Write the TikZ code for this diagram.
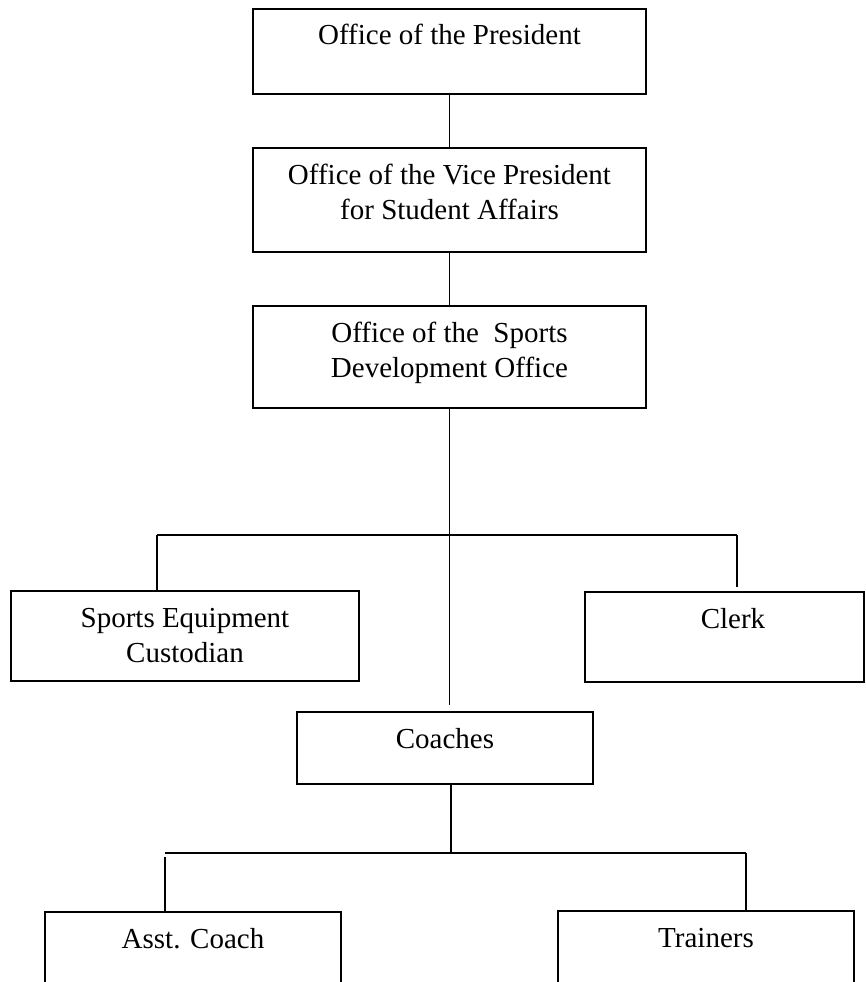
\documentclass[tikz,border=0pt]{standalone}
\usepackage{fontspec}
\setmainfont{Liberation Serif}
\usetikzlibrary{calc}
% text of a box: top-aligned, centred lines of a fixed width
\newcommand\boxtext[2]{\parbox[t]{#1}{\centering #2}}
\begin{document}
\begin{tikzpicture}[x=1pt,y=-1pt,
  orgbox/.style={draw, line width=2pt, inner sep=0pt, anchor=north west,
    text height=36pt, font=\fontsize{29}{35}\selectfont},
  link/.style={line width=1.5pt}]
\clip (0,0) rectangle (866,982);

% --- boxes ---
\node[orgbox, minimum width=393pt, text depth=49pt] (pres) at (252,8)
  {\boxtext{393pt}{Office of the President}};
\node[orgbox, minimum width=393pt, text depth=68pt] (vp) at (252,147)
  {\boxtext{393pt}{Office of the Vice President\\for Student Affairs}};
\node[orgbox, minimum width=393pt, text depth=66pt] (sdo) at (252,305)
  {\boxtext{393pt}{Office of the\ \ Sports\\Development Office}};
\node[orgbox, minimum width=348pt, text depth=54pt] (se) at (10,590)
  {\boxtext{348pt}{Sports Equipment\\Custodian}};
\node[orgbox, minimum width=279pt, text depth=54pt] (clerk) at (584,591)
  {\boxtext{279pt}{\hspace*{17pt}Clerk}};
\node[orgbox, minimum width=296pt, text depth=36pt] (coaches) at (296,711)
  {\boxtext{296pt}{Coaches}};
\node[orgbox, minimum width=296pt, text depth=64pt] (asst) at (44,911)
  {\boxtext{296pt}{Asst. Coach}};
\node[orgbox, minimum width=296pt, text depth=64pt] (trainers) at (557,910)
  {\boxtext{296pt}{Trainers}};

% --- connectors ---
\draw[link] (pres.south) -- (vp.north);
\draw[link] (vp.south) -- (sdo.north);
\draw[link] (sdo.south) -- ($(sdo.south |- coaches.north)+(0,-6)$);

\coordinate (busL) at (157,535);
\coordinate (busR) at (737,535);
\draw[link] (busL) -- (busR);
\draw[link] (busL) -- (busL |- se.north);
\draw[link] (busR) -- ($(busR |- clerk.north)+(0,-4)$);

\coordinate (cbusL) at (165,853);
\coordinate (cbusR) at (746,853);
\coordinate (cdrop) at (451,853);
\draw[link] (cdrop |- coaches.south) -- (cdrop);
\draw[link] (cbusL) -- (cbusR);
\draw[link] ($(cbusL)+(0,4)$) -- (cbusL |- asst.north);
\draw[link] (cbusR) -- (cbusR |- trainers.north);
\end{tikzpicture}
\end{document}
